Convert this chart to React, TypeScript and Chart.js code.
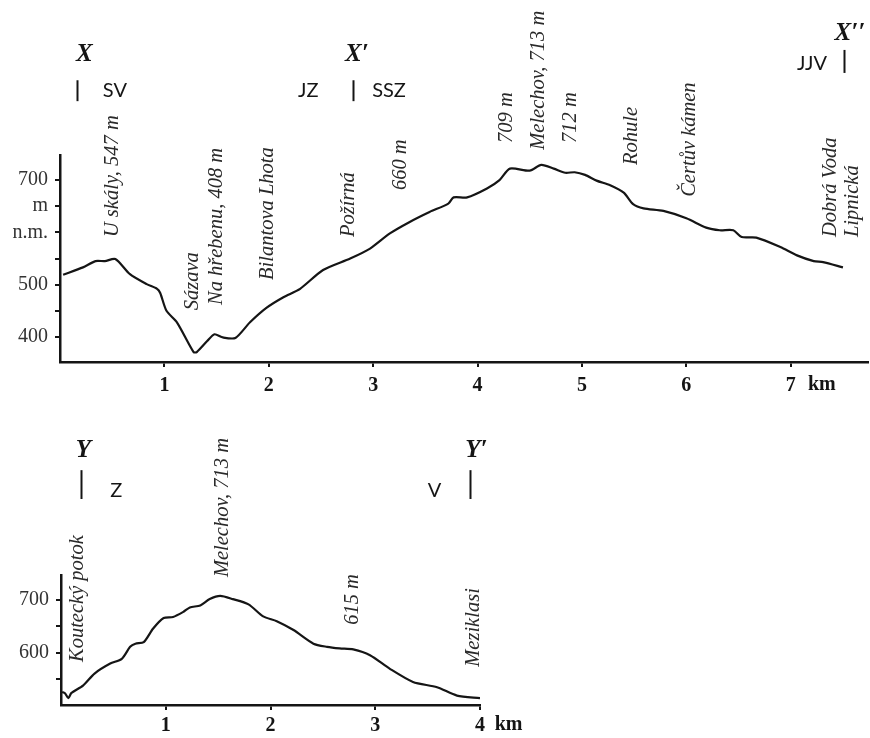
import React, { useEffect, useRef } from "react";
import { Chart, registerables } from "chart.js";

Chart.register(...registerables);

// ---------- Profile X – X′ – X′′ ----------
const X_DIST = [0.03, 0.22, 0.34, 0.43, 0.53, 0.67, 0.83, 0.93, 0.96, 1.02, 1.12, 1.28, 1.31, 1.41, 1.48, 1.56, 1.68, 1.82, 1.98, 2.14, 2.3, 2.52, 2.78, 2.97, 3.16, 3.35, 3.54, 3.72, 3.77, 3.9, 4.09, 4.21, 4.31, 4.5, 4.61, 4.73, 4.84, 4.93, 5.03, 5.14, 5.27, 5.4, 5.49, 5.59, 5.78, 6.0, 6.19, 6.32, 6.45, 6.53, 6.67, 6.9, 7.06, 7.22, 7.31, 7.5];
const X_ELEV = [519, 533, 545, 545, 549, 520, 501, 492, 484, 450, 428, 371, 371, 392, 405, 399, 398, 428, 456, 476, 492, 528, 550, 569, 598, 620, 639, 655, 667, 667, 684, 700, 722, 718, 729, 722, 714, 715, 710, 699, 690, 676, 654, 646, 641, 627, 609, 604, 604, 591, 590, 572, 556, 545, 543, 533];
const X_XTICKS = [1, 2, 3, 4, 5, 6, 7];
const X_YTICKS = [400, 450, 500, 550, 600, 650, 700];
const X_YLABELS = ["400", "", "500", "", "n.m.", "m", "700"];
const X_PLACES = ["U skály, 547 m", "Sázava", "Na hřebenu, 408 m", "Bilantova Lhota", "Požírná", "660 m", "709 m", "Melechov, 713 m", "712 m", "Rohule", "Čertův kámen", "Dobrá Voda", "Lipnická"];
const X_PLACE_KM = [0.5, 1.27, 1.5, 1.99, 2.76, 3.26, 4.28, 4.58, 4.89, 5.48, 6.03, 7.38, 7.59];
const X_PLACE_ELEV = [591, 451, 461, 509, 591, 681, 771, 758, 771, 729, 668, 591, 591];
const X_DIRS = ["SV", "JZ", "SSZ", "JJV"];
const X_DIR_KM = [0.41, 2.28, 2.99, 7.06];
const X_DIR_ELEV = [872, 872, 872, 922];
const X_POINTS = ["X", "X′", "X′′"];
const X_POINT_KM = [0.153, 2.73, 7.42];
const X_POINT_ELEV = [941, 941, 981];
const X_BAR_KM = [0.163, 2.81, 7.51];
const X_BAR_TOP = [891, 891, 949];
const X_BAR_BOT = [851, 851, 905];

// ---------- Profile Y – Y′ ----------
const Y_DIST = [0.01, 0.04, 0.07, 0.1, 0.21, 0.32, 0.47, 0.58, 0.66, 0.71, 0.79, 0.88, 0.98, 1.07, 1.17, 1.23, 1.33, 1.42, 1.52, 1.64, 1.79, 1.93, 2.06, 2.22, 2.41, 2.54, 2.66, 2.79, 2.95, 3.14, 3.36, 3.59, 3.78, 4.0];
const Y_ELEV = [525, 522, 513, 523, 537, 560, 579, 588, 611, 617, 620, 646, 666, 668, 678, 686, 690, 702, 708, 702, 692, 669, 660, 643, 617, 611, 608, 606, 595, 569, 544, 534, 518, 513];
const Y_XTICKS = [1, 2, 3, 4];
const Y_YTICKS = [550, 600, 650, 700];
const Y_YLABELS = ["", "600", "", "700"];
const Y_PLACES = ["Koutecký potok", "Melechov, 713 m", "615 m", "Meziklasi"];
const Y_PLACE_KM = [0.16, 1.54, 2.78, 3.94];
const Y_PLACE_ELEV = [582, 744, 653, 573];
const Y_DIRS = ["Z", "V"];
const Y_DIR_KM = [0.47, 3.5];
const Y_DIR_ELEV = [910, 910];
const Y_POINTS = ["Y", "Y′"];
const Y_POINT_KM = [0.14, 3.86];
const Y_POINT_ELEV = [985, 985];
const Y_BAR_KM = [0.19, 3.9];
const Y_BAR_TOP = [948, 948];
const Y_BAR_BOT = [893, 893];

const INK = "#151515";
const LABEL_INK = "#2a2a2a";
const SERIF = "'Liberation Serif', 'Times New Roman', serif";
const SANS = "Lato, 'Open Sans', sans-serif";

type Annot = {
  places: string[]; placeKm: number[]; placeElev: number[];
  dirs: string[]; dirKm: number[]; dirElev: number[];
  points: string[]; pointKm: number[]; pointElev: number[];
  barKm: number[]; barTop: number[]; barBot: number[];
  unitKm: number; unitElev: number;
};

function annotPlugin(a: Annot) {
  return {
    id: "profileAnnot",
    afterDraw(chart: any) {
      const { ctx } = chart;
      const xs = chart.scales.x;
      const ys = chart.scales.y;
      ctx.save();
      // rotated place names
      ctx.fillStyle = LABEL_INK;
      ctx.font = `italic 20.5px ${SERIF}`;
      ctx.textAlign = "left";
      ctx.textBaseline = "middle";
      a.places.forEach((t, i) => {
        ctx.save();
        ctx.translate(xs.getPixelForValue(a.placeKm[i]), ys.getPixelForValue(a.placeElev[i]));
        ctx.rotate(-Math.PI / 2);
        ctx.fillText(t, 0, 0);
        ctx.restore();
      });
      // direction letters
      ctx.fillStyle = INK;
      ctx.font = `20px ${SANS}`;
      a.dirs.forEach((t, i) => {
        ctx.fillText(t, xs.getPixelForValue(a.dirKm[i]), ys.getPixelForValue(a.dirElev[i]));
      });
      // profile end-point names
      ctx.font = `italic bold 25px ${SERIF}`;
      a.points.forEach((t, i) => {
        ctx.fillText(t, xs.getPixelForValue(a.pointKm[i]), ys.getPixelForValue(a.pointElev[i]));
      });
      // vertical bars
      ctx.strokeStyle = INK;
      ctx.lineWidth = 2;
      a.barKm.forEach((k, i) => {
        const px = Math.round(xs.getPixelForValue(k)) + 0.5;
        ctx.beginPath();
        ctx.moveTo(px, ys.getPixelForValue(a.barTop[i]));
        ctx.lineTo(px, ys.getPixelForValue(a.barBot[i]));
        ctx.stroke();
      });
      // km unit
      ctx.font = `bold 20px ${SERIF}`;
      ctx.fillText("km", xs.getPixelForValue(a.unitKm), ys.getPixelForValue(a.unitElev));
      ctx.restore();
    },
  };
}

function makeConfig(opts: {
  dist: number[]; elev: number[]; xMax: number; yMin: number; yMax: number;
  xTicks: number[]; yTicks: number[]; yLabels: string[];
  pad: { left: number; right: number; top: number; bottom: number };
  yWidth: number; xHeight: number; xLabelPad: number; annot: Annot;
}) {
  const pts = opts.dist.map((d, i) => ({ x: d, y: opts.elev[i] }));
  return {
    type: "line" as const,
    data: {
      datasets: [
        {
          data: pts,
          borderColor: INK,
          borderWidth: 2.2,
          pointRadius: 0,
          tension: 0.25,
          fill: false,
        },
      ],
    },
    options: {
      responsive: false,
      animation: false as const,
      events: [],
      layout: { padding: opts.pad },
      plugins: { legend: { display: false }, tooltip: { enabled: false } },
      scales: {
        x: {
          type: "linear" as const,
          min: 0,
          max: opts.xMax,
          afterBuildTicks: (s: any) => {
            s.ticks = opts.xTicks.map((v) => ({ value: v }));
          },
          afterFit: (s: any) => {
            s.height = opts.xHeight;
          },
          ticks: {
            autoSkip: false,
            maxRotation: 0,
            padding: opts.xLabelPad,
            color: INK,
            font: { family: SERIF, size: 20, weight: "bold" as const },
            callback: (v: any) => String(v),
          },
          grid: { drawOnChartArea: false, drawTicks: true, tickLength: 5, color: INK, lineWidth: 2 },
          border: { display: true, color: INK, width: 2.5 },
        },
        y: {
          type: "linear" as const,
          min: opts.yMin,
          max: opts.yMax,
          afterBuildTicks: (s: any) => {
            s.ticks = opts.yTicks.map((v) => ({ value: v }));
          },
          afterFit: (s: any) => {
            s.width = opts.yWidth;
          },
          ticks: {
            autoSkip: false,
            padding: 7,
            color: "#333",
            font: { family: SERIF, size: 20 },
            callback: (v: any) => {
              const i = opts.yTicks.indexOf(Number(v));
              return i >= 0 ? opts.yLabels[i] : "";
            },
          },
          grid: { drawOnChartArea: false, drawTicks: true, tickLength: 5, color: INK, lineWidth: 2 },
          border: { display: true, color: INK, width: 2.5 },
        },
      },
    },
    plugins: [annotPlugin(opts.annot)],
  };
}

function ProfileCanvas(props: { config: any; width: number; height: number; top: number }) {
  const ref = useRef<HTMLCanvasElement | null>(null);
  useEffect(() => {
    if (!ref.current) return;
    const chart = new Chart(ref.current, props.config);
    return () => chart.destroy();
  }, []);
  return (
    <canvas
      ref={ref}
      width={props.width}
      height={props.height}
      style={{ position: "absolute", left: 0, top: props.top, width: props.width, height: props.height, display: "block" }}
    />
  );
}

export default function App() {
  const topConfig = makeConfig({
    dist: X_DIST,
    elev: X_ELEV,
    xMax: 7.74,
    yMin: 352,
    yMax: 748,
    xTicks: X_XTICKS,
    yTicks: X_YTICKS,
    yLabels: X_YLABELS,
    pad: { left: 0, right: 2, top: 155, bottom: 0 },
    yWidth: 60,
    xHeight: 38,
    xLabelPad: 7,
    annot: {
      places: X_PLACES, placeKm: X_PLACE_KM, placeElev: X_PLACE_ELEV,
      dirs: X_DIRS, dirKm: X_DIR_KM, dirElev: X_DIR_ELEV,
      points: X_POINTS, pointKm: X_POINT_KM, pointElev: X_POINT_ELEV,
      barKm: X_BAR_KM, barTop: X_BAR_TOP, barBot: X_BAR_BOT,
      unitKm: 7.165, unitElev: 308,
    },
  });
  const bottomConfig = makeConfig({
    dist: Y_DIST,
    elev: Y_ELEV,
    xMax: 4,
    yMin: 500,
    yMax: 748,
    xTicks: Y_XTICKS,
    yTicks: Y_YTICKS,
    yLabels: Y_YLABELS,
    pad: { left: 0, right: 390, top: 175, bottom: 0 },
    yWidth: 61,
    xHeight: 33,
    xLabelPad: 4,
    annot: {
      places: Y_PLACES, placeKm: Y_PLACE_KM, placeElev: Y_PLACE_ELEV,
      dirs: Y_DIRS, dirKm: Y_DIR_KM, dirElev: Y_DIR_ELEV,
      points: Y_POINTS, pointKm: Y_POINT_KM, pointElev: Y_POINT_ELEV,
      barKm: Y_BAR_KM, barTop: Y_BAR_TOP, barBot: Y_BAR_BOT,
      unitKm: 4.14, unitElev: 462,
    },
  });
  return (
    <div style={{ position: "absolute", left: 0, top: 0, width: 870, height: 738, background: "#fff" }}>
      <ProfileCanvas config={topConfig} width={870} height={400} top={0} />
      <ProfileCanvas config={bottomConfig} width={870} height={338} top={400} />
    </div>
  );
}
